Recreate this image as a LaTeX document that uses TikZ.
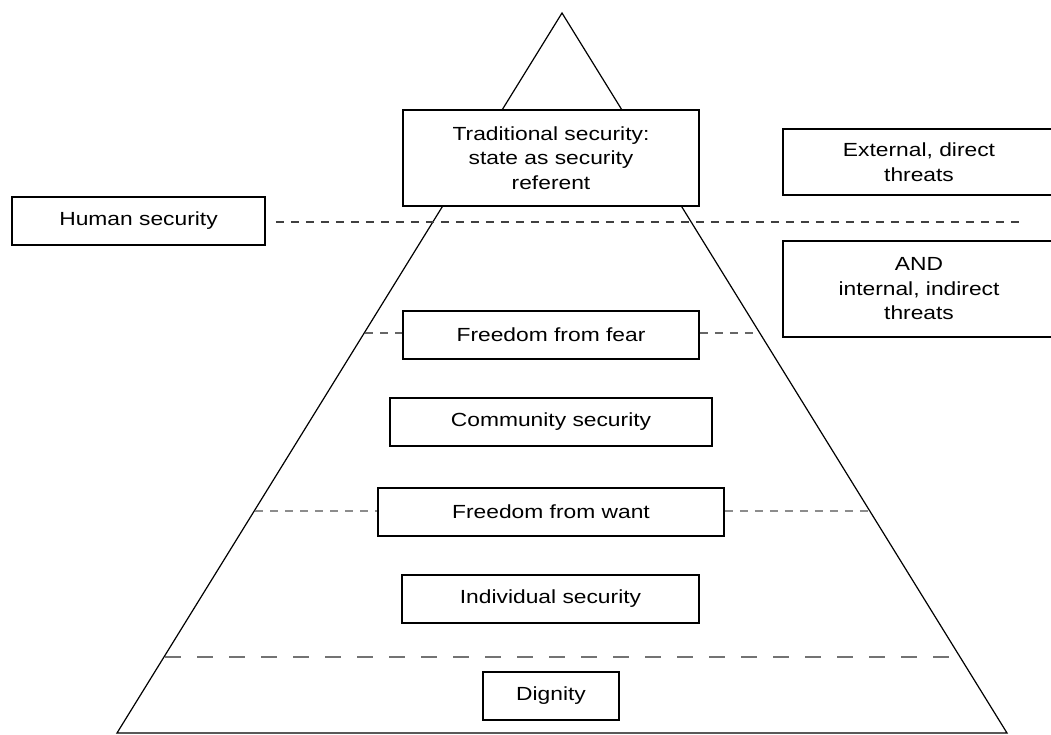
\documentclass[tikz,border=0pt]{standalone}
\usepackage{fontspec}
\setmainfont{Liberation Sans}[FakeStretch=1.2]
\begin{document}
\begin{tikzpicture}[x=1pt,y=-1pt,
  tier/.style={draw,line width=1.6pt,fill=white,align=center,inner sep=0pt,
    font=\fontsize{19}{24.5}\selectfont},
  sepline/.style={densely dashed,line width=1.3pt,dash pattern=on 8pt off 7pt},
  baseline/.style={line width=1.5pt,dash pattern=on 16pt off 16pt}]
\useasboundingbox (0,0) rectangle (1051,735);
\clip (0,0) rectangle (1051,735);

\coordinate (apex) at (562,13);
\coordinate (bl) at (117,733);
\coordinate (br) at (1007,733);
\draw[line width=1.2pt] (apex) -- (bl) -- (br) -- cycle;

\node[tier,minimum width=296,minimum height=96] (trad) at (551,158) {Traditional security:\\state as security\\referent};
\node[tier,minimum width=272,minimum height=66] (ext) at (919,162) {External, direct\\threats};
\node[tier,minimum width=272,minimum height=96] (and) at (919,289) {AND\\internal, indirect\\threats};
\node[tier,minimum width=253,minimum height=48] (human) at (138.5,221) {Human security};

\node[tier,minimum width=296,minimum height=48] (fear) at (551,335) {Freedom from fear};
\node[tier,minimum width=322,minimum height=48] (comm) at (551,422) {Community security};
\node[tier,minimum width=346,minimum height=48] (want) at (551,512) {Freedom from want};
\node[tier,minimum width=297,minimum height=48] (indiv) at (550.5,599) {Individual security};
\node[tier,minimum width=136,minimum height=48] (dig) at (551,696) {Dignity};

\coordinate (humanR) at (1025,222);
\coordinate (fearL) at (365,333);
\coordinate (fearR) at (757,333);
\coordinate (wantL) at (255,511);
\coordinate (wantR) at (869,511);
\coordinate (digL) at (165,657);
\coordinate (digR) at (958,657);

\draw[sepline,black!75] ([xshift=10pt]human.east |- humanR) -- (humanR);
\draw[sepline,black!60] (fearL) -- (fear.west |- fearL);
\draw[sepline,black!60] (fear.east |- fearR) -- (fearR);
\draw[sepline,black!45] (wantL) -- (want.west |- wantL);
\draw[sepline,black!45] (want.east |- wantR) -- (wantR);
\draw[baseline,black!55] (digL) -- (digR);
\end{tikzpicture}
\end{document}
